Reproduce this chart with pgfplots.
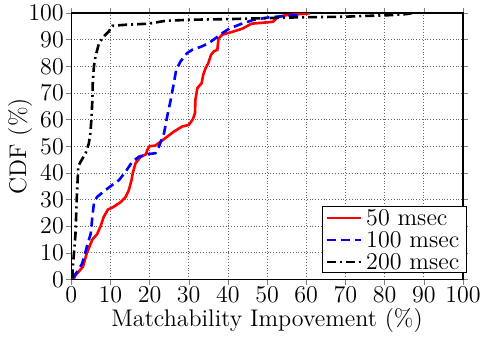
\documentclass[border=0pt,12pt]{standalone}
\usepackage{pgfplots}
\pgfplotsset{compat=1.18}
\begin{document}
\begin{tikzpicture}
\begin{axis}[
  scale only axis,
  width=195.5pt, height=133pt,
  xmin=0, xmax=100, ymin=0, ymax=100,
  xtick={0,10,...,100}, ytick={0,10,...,100},
  tick align=outside,
  xtick pos=both, ytick pos=both,
  major tick length=2.5pt,
  grid=major,
  major grid style={densely dotted, gray!80!black, line width=0.4pt},
  axis line style={line width=0.6pt},
  xlabel={Matchability Impovement (\%)},
  ylabel={CDF (\%)},
  xlabel style={yshift=2pt},
  ylabel style={yshift=-7pt},
  tick label style={inner sep=1pt},
  legend cell align=left,
  legend style={at={(1.01,0.023)}, anchor=south east, inner sep=1.5pt, row sep=3pt, line width=0.6pt,
    nodes={inner xsep=2pt, inner ysep=0pt, text depth=0pt}},
]
\addplot[red, line width=1.3pt] coordinates {
(0.7,0.4) (1.1,1.6) (3,4.8) (4,10) (5.4,15) (6.6,17) (7.5,20) (8.3,23.5) (9.4,26.3) (10.5,27)
(12.6,29) (13.9,31) (14.7,33.5) (15.4,37.3) (15.7,39.8) (16.4,43.6) (17.7,46) (19.1,47) (19.4,48.6)
(20,50) (21.5,50.3) (22.8,51.7) (24.5,53.6) (26.2,55.5) (28.3,57.4) (30,58) (31,60) (31.6,62.4)
(31.7,67.4) (32.2,71.8) (33.3,73.7) (33.7,76.8) (34.3,79.3) (35,81.2) (35.7,84.3) (36.4,85.6)
(37.3,86.2) (37.6,90.4) (38.6,91.9) (41.3,93) (43.8,94.2) (46,96) (51.5,96.7) (52.8,98.6) (54.9,99.2) (60.9,99.9)
};
\addlegendentry{50 msec}
\addplot[blue, line width=1.3pt, dash pattern=on 4.5pt off 2.5pt] coordinates {
(0.3,0.4) (1.5,2.9) (2.8,6) (4,12.3) (5,17.3) (5.4,23.6) (5.8,28.6) (6.6,31) (8.8,33.6) (10.5,35.5)
(12.2,37.3) (13.9,40.5) (15.6,44.2) (17.3,46.1) (19.8,47.1) (21.5,47.4) (22.4,49.9) (23.7,54.9)
(24.5,61.2) (25.4,67.4) (26.2,73.7) (26.8,78.7) (27.9,81.8) (29.6,85) (30.9,86.2) (33.4,87.5)
(35.1,88.7) (36.9,90.6) (38.6,92.5) (40.4,94.2) (43.4,95.9) (46.4,97.4) (50.6,98.4) (57.5,99.2) (58,100)
};
\addlegendentry{100 msec}
\addplot[black, line width=1.3pt, dash pattern=on 4.5pt off 2pt on 1pt off 2pt] coordinates {
(0.3,0.4) (0.4,4.8) (0.7,9.8) (1.1,17.3) (1.4,29.8) (1.8,42.4) (2.4,44.2) (3.7,47.4) (4.5,51.1)
(4.9,54.9) (5.2,61.2) (5.4,67.4) (5.5,73.7) (5.8,80) (6.2,83.7) (7.1,88.7) (8.3,91.2) (9.6,93.1)
(10.5,95.2) (13.9,95.6) (19.8,96) (24.1,97.1) (30.9,97.5) (39.4,97.7) (47.9,98) (58.3,98.4)
(69.3,98.6) (77,99) (81.3,99.2) (85.6,99.6) (87,100)
};
\addlegendentry{200 msec}
\end{axis}
\path (current axis.east) ++(13pt,0) coordinate (padR);
\path (current axis.north) ++(0,6.5pt) coordinate (padT);
\end{tikzpicture}
\end{document}
